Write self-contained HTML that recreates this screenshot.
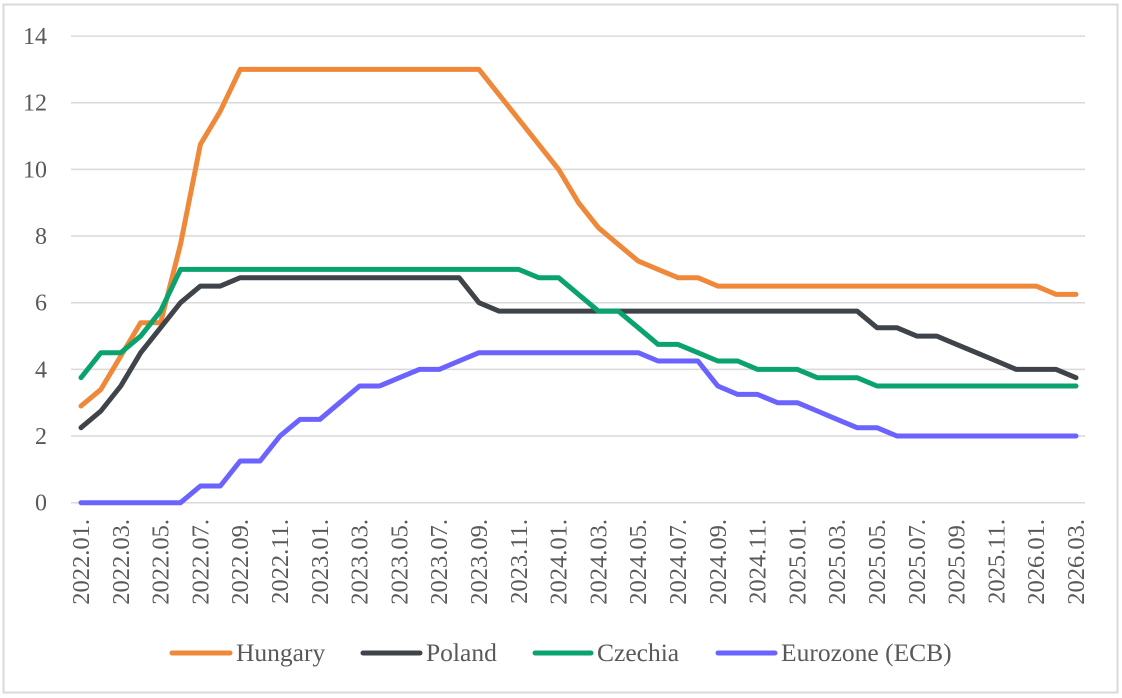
<!DOCTYPE html>
<html><head><meta charset="utf-8"><style>
html,body{margin:0;padding:0;background:#fff;}
svg{display:block;font-family:"Liberation Serif",serif;}
</style></head><body>
<svg id="s" width="1122" height="698" xmlns="http://www.w3.org/2000/svg">
<rect x="3.5" y="4.5" width="1114" height="688" fill="#fff" stroke="#d9d9d9" stroke-width="2"/>
<g id="grid" stroke="#d9d9d9" stroke-width="1.5"></g>
<g id="ylab" font-size="24" fill="#595959" text-anchor="end"></g>
<g id="xlab" font-size="24.5" fill="#595959" text-anchor="end"></g>
<g id="lines" fill="none" stroke-width="5" stroke-linejoin="round" stroke-linecap="round"></g>
<g font-size="25.5" fill="#595959">
<line x1="172" y1="653" x2="230" y2="653" stroke="#F0883A" stroke-width="5" stroke-linecap="round"/>
<text x="236" y="661">Hungary</text>
<line x1="363" y1="653" x2="420" y2="653" stroke="#3F444B" stroke-width="5" stroke-linecap="round"/>
<text x="426" y="661">Poland</text>
<line x1="535" y1="653" x2="591" y2="653" stroke="#0BA36D" stroke-width="5" stroke-linecap="round"/>
<text x="597" y="661">Czechia</text>
<line x1="718" y1="653" x2="775" y2="653" stroke="#6C63FF" stroke-width="5" stroke-linecap="round"/>
<text x="781" y="661">Eurozone (ECB)</text>
</g>
</svg>
<script>
var NS="http://www.w3.org/2000/svg";
function el(t,a,p,txt){var e=document.createElementNS(NS,t);for(var k in a)e.setAttribute(k,a[k]);if(txt)e.textContent=txt;document.getElementById(p).appendChild(e);}
var y0=502.7,u=33.33,x0=81,dx=19.9;
for(var v=0;v<=14;v+=2){var y=y0-v*u;el('line',{x1:71,x2:1085,y1:y,y2:y},'grid');el('text',{x:47,y:y+8},'ylab',String(v));}
for(var i=0;i<=50;i+=2){var yr=2022+Math.floor(i/12),m=i%12+1;var s=yr+'.'+(m<10?'0':'')+m+'.';var x=x0+i*dx+8;el('text',{x:0,y:0,transform:'translate('+x+',519) rotate(-90)'},'xlab',s);}
function f(a,n,v){for(var k=0;k<n;k++)a.push(v);return a;}
var H=[2.9,3.4,4.4,5.4,5.4,7.75,10.75,11.75];f(H,13,13);H=H.concat([12.25,11.5,10.75,10,9,8.25,7.75,7.25,7,6.75,6.75]);f(H,17,6.5);H.push(6.25,6.25);
var P=[2.25,2.75,3.5,4.5,5.25,6,6.5,6.5];f(P,12,6.75);P.push(6);f(P,19,5.75);P=P.concat([5.25,5.25,5,5,4.75,4.5,4.25,4,4,4,3.75]);
var C=[3.75,4.5,4.5,5,5.75];f(C,18,7);C=C.concat([6.75,6.75,6.25,5.75,5.75,5.25,4.75,4.75,4.5,4.25,4.25,4,4,4,3.75,3.75,3.75]);f(C,11,3.5);
var E=[];f(E,6,0);E=E.concat([0.5,0.5,1.25,1.25,2,2.5,2.5,3,3.5,3.5,3.75,4,4,4.25]);f(E,9,4.5);E=E.concat([4.25,4.25,4.25,3.5,3.25,3.25,3,3,2.75,2.5,2.25,2.25]);f(E,10,2);
[[H,'#F0883A'],[P,'#3F444B'],[C,'#0BA36D'],[E,'#6C63FF']].forEach(function(d){var pts=d[0].slice(0,51).map(function(v,i){return (x0+i*dx).toFixed(1)+','+(y0-v*u).toFixed(1);}).join(' ');el('polyline',{points:pts,stroke:d[1]},'lines');});
</script>
</body></html>
